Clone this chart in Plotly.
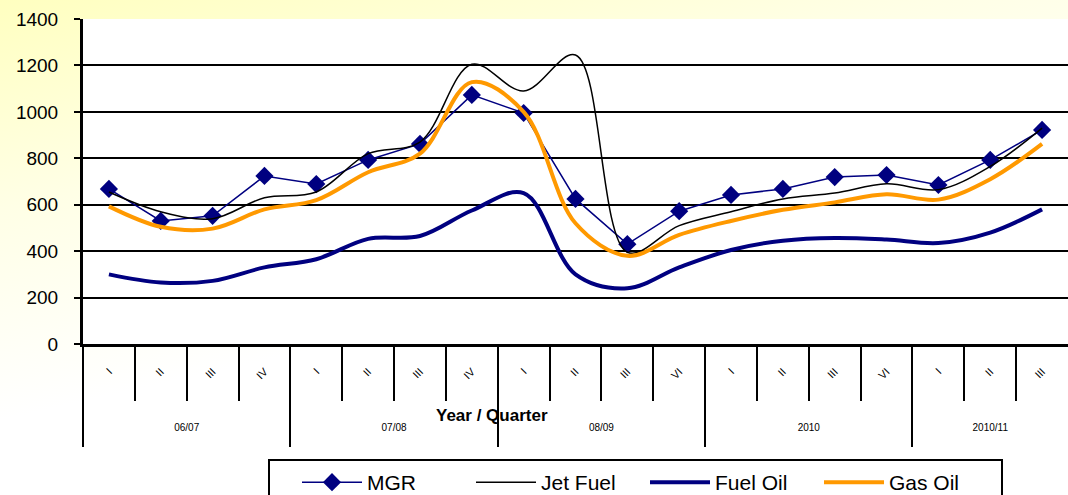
import base64
import plotly.graph_objects as go

years = ["06/07"] * 4 + ["07/08"] * 4 + ["08/09"] * 4 + ["2010"] * 4 + ["2010/11"] * 3
quarters = ["I", "II", "III", "IV", "I", "II", "III", "IV", "I", "II", "III", "VI",
            "I", "II", "III", "VI", "I", "II", "III"]

mgr = [668, 530, 552, 724, 689, 793, 862, 1073, 995, 625, 430, 572,
       642, 668, 719, 728, 685, 793, 922]
jet_fuel = [655, 570, 540, 630, 655, 820, 870, 1205, 1090, 1245, 395, 510,
            570, 625, 650, 690, 665, 765, 930]
fuel_oil = [300, 265, 272, 330, 365, 453, 465, 575, 650, 300, 240, 330,
            405, 445, 457, 450, 435, 480, 580]
gas_oil = [593, 505, 497, 580, 620, 740, 820, 1128, 1000, 520, 380, 470,
           530, 578, 610, 645, 622, 710, 862]

# category positions derived from the lists
idx = list(range(len(quarters)))
bounds = [i - 0.5 for i in idx]
group_names, group_start, group_end = [], [], []
for i, yv in enumerate(years):
    if not group_names or group_names[-1] != yv:
        group_names.append(yv)
        group_start.append(i)
        group_end.append(i)
    else:
        group_end[-1] = i
group_centers = [(s + e) / 2 for s, e in zip(group_start, group_end)]
group_bounds = [s - 0.5 for s in group_start]

fig = go.Figure()
fig.add_trace(go.Scatter(x=idx, y=mgr, name="MGR", mode="lines+markers",
                         line=dict(color="#000080", width=1.5),
                         marker=dict(symbol="diamond", size=14, color="#000080")))
fig.add_trace(go.Scatter(x=idx, y=jet_fuel, name="Jet Fuel", mode="lines",
                         line=dict(color="#000000", width=1.5, shape="spline", smoothing=1)))
fig.add_trace(go.Scatter(x=idx, y=fuel_oil, name="Fuel Oil", mode="lines",
                         line=dict(color="#000080", width=4, shape="spline", smoothing=1)))
fig.add_trace(go.Scatter(x=idx, y=gas_oil, name="Gas Oil", mode="lines",
                         line=dict(color="#FF9900", width=4, shape="spline", smoothing=1)))
# helper (empty) trace so the year-group axis is drawn
fig.add_trace(go.Scatter(x=[], y=[], xaxis="x2", yaxis="y", showlegend=False,
                         hoverinfo="skip"))

W, H = 1068, 495
ml, mr, mt, mb = 83, 0, 19, 151
pw, ph = W - ml - mr, H - mt - mb


def px_x(v):
    return (v - ml) / pw


def px_y(v):
    return (mt + ph - v) / ph


svg = f'''<svg xmlns="http://www.w3.org/2000/svg" width="{W}" height="{H}" viewBox="0 0 {W} {H}" preserveAspectRatio="none">
<defs><linearGradient id="g" gradientUnits="userSpaceOnUse" x1="0" y1="0" x2="90" y2="400">
<stop offset="0" stop-color="#FFFFC0"/><stop offset="0.5" stop-color="#FFFFE6"/><stop offset="1" stop-color="#FFFFFF"/>
</linearGradient></defs><rect width="{W}" height="{H}" fill="url(#g)"/></svg>'''
src = "data:image/svg+xml;base64," + base64.b64encode(svg.encode()).decode()

font = "Liberation Sans, Arial, sans-serif"

fig.update_layout(
    width=W, height=H,
    margin=dict(l=ml, r=mr, t=mt, b=mb, pad=0, autoexpand=False),
    paper_bgcolor="#FFFFFF",
    plot_bgcolor="rgba(0,0,0,0)",
    font=dict(family=font, color="#000000"),
    images=[dict(source=src, xref="paper", yref="paper",
                 x=-ml / pw, y=1 + mt / ph, sizex=W / pw, sizey=H / ph,
                 xanchor="left", yanchor="top", sizing="stretch", layer="below")],
    shapes=[
        dict(type="rect", xref="paper", yref="paper", x0=0, x1=1, y0=0, y1=1,
             fillcolor="#FFFFFF", line=dict(width=0), layer="below"),
        # legend frame
        dict(type="rect", xref="paper", yref="paper", x0=px_x(269), x1=px_x(1002),
             y0=px_y(520), y1=px_y(460), fillcolor="rgba(0,0,0,0)",
             line=dict(color="#000000", width=2), layer="above"),
    ],
    showlegend=True,
    legend=dict(orientation="h", x=px_x(297), y=px_y(462),
                xanchor="left", yanchor="top", borderwidth=0,
                bgcolor="rgba(255,255,255,0)", font=dict(size=21, family=font),
                itemwidth=60, entrywidth=99, entrywidthmode="pixels"),
    annotations=[dict(text="<b>Year / Quarter</b>", xref="paper", yref="paper",
                      x=px_x(492), y=px_y(415),
                      showarrow=False, font=dict(size=17, family=font),
                      xanchor="center", yanchor="middle")],
    xaxis=dict(range=[-0.5, len(quarters) - 0.5], tickmode="array", tickvals=idx,
               ticktext=quarters, ticks="", tickangle=-45,
               tickfont=dict(size=11, family=font), ticklabelstandoff=14,
               showline=True, linecolor="#000000", linewidth=3, showgrid=False,
               zeroline=False,
               minor=dict(tickmode="array", tickvals=bounds, ticks="outside",
                          ticklen=54, tickwidth=2, tickcolor="#000000", showgrid=False)),
    xaxis2=dict(overlaying="x", matches="x", anchor="y", side="bottom",
                range=[-0.5, len(quarters) - 0.5], tickmode="array",
                tickvals=group_centers, ticktext=group_names, ticks="",
                tickfont=dict(size=10, family=font), ticklabelstandoff=76,
                showline=False, showgrid=False, zeroline=False,
                minor=dict(tickmode="array", tickvals=group_bounds, ticks="outside",
                           ticklen=102, tickwidth=2, tickcolor="#000000", showgrid=False)),
    yaxis=dict(range=[0, 1400], dtick=200, showgrid=True, gridcolor="#000000", gridwidth=2,
               showline=True, linecolor="#000000", linewidth=3,
               ticks="outside", ticklen=6, tickwidth=2, tickcolor="#000000",
               tickfont=dict(size=19, family=font), ticklabelstandoff=12,
               zeroline=False),
)

fig.write_html("out.html", config={"displayModeBar": False},
               post_script="document.body.style.margin='0';document.body.style.overflow='hidden';")
